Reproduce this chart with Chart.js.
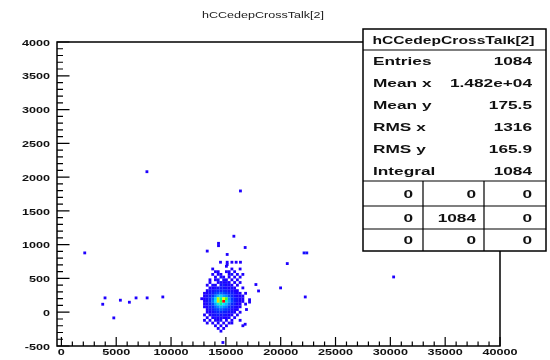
<!DOCTYPE html>
<html>
<head>
<meta charset="UTF-8" />
<title>hCCedepCrossTalk[2]</title>
<script src="https://cdn.jsdelivr.net/npm/chart.js@4.4.1/dist/chart.umd.min.js"></script>
<style>
	html, body { margin: 0; padding: 0; background: #fff; }
	.chart { width: 550px; height: 360px; }
</style>
</head>
<body>
<div class="chart"><canvas id="hist" width="550" height="360"></canvas></div>
<script>
// bin centres of the dense core (x bins of 250, y bins of 40), counts
var binX = [12800, 13050, 13300, 13550, 13800, 14050, 14300, 14550, 14800, 15050, 15300, 15550, 15800, 16050, 16300, 16550, 16800];
var binY = [680, 640, 600, 560, 520, 480, 440, 400, 360, 320, 280, 240, 200, 160, 120, 80, 40, 0, -40, -80, -120, -160, -200, -240, -280];
var counts = [
	[0,0,0,0,0,0,0,0,0,1,0,0,0,0,0,0,0],
	[0,0,0,0,1,0,0,0,0,0,0,1,0,0,1,0,0],
	[0,0,0,0,0,1,1,0,0,1,1,0,1,0,0,0,0],
	[0,0,0,0,1,0,1,1,0,0,1,2,0,1,0,1,0],
	[0,0,0,0,0,1,0,2,1,0,1,0,1,0,1,0,0],
	[0,0,0,1,0,1,2,0,2,1,0,1,0,1,0,0,0],
	[0,0,0,1,0,0,1,2,1,2,1,0,1,0,1,0,0],
	[0,0,1,0,2,1,0,2,3,1,2,1,0,1,0,0,0],
	[0,0,0,1,1,2,2,3,2,2,1,2,1,0,0,1,0],
	[0,0,1,2,2,3,4,3,4,3,2,2,1,1,0,0,0],
	[0,1,1,2,3,5,6,7,6,5,4,3,2,1,1,0,1],
	[0,1,2,3,5,8,11,12,10,9,6,4,2,1,1,1,0],
	[1,1,2,4,7,12,22,16,23,19,9,5,3,2,1,1,0],
	[0,1,2,4,8,13,24,18,30,15,10,6,3,2,1,1,0],
	[0,1,2,3,6,10,14,16,13,11,8,4,3,1,1,0,1],
	[0,1,1,3,4,7,9,10,9,8,5,3,2,1,1,0,0],
	[0,0,1,2,3,5,6,7,6,5,4,2,1,1,0,0,0],
	[0,0,1,1,2,3,4,4,3,3,2,2,1,0,1,0,0],
	[0,1,0,1,2,2,3,2,3,2,1,1,0,1,0,0,0],
	[0,0,1,0,1,2,1,2,1,1,2,0,1,0,0,0,0],
	[0,1,0,1,0,1,1,2,0,1,0,1,0,0,1,0,0],
	[0,0,1,0,1,0,1,0,1,0,1,1,0,0,0,0,0],
	[0,0,0,0,0,1,0,1,0,1,0,0,0,0,0,1,0],
	[0,0,0,0,0,0,1,0,1,0,0,0,0,0,0,0,0],
	[0,0,0,0,0,0,0,1,0,0,0,0,0,0,0,0,0]
];

// isolated entries outside the core
var strayX = [7800, 16330, 15730, 14330, 14330, 13300, 15120, 16760, 2130, 22130, 22380, 20600, 30300, 17740, 19990, 17980, 22240, 9250, 7820, 6810, 3980, 5380, 6200, 3770, 4780, 14730, 14510, 15120, 15550, 15940, 16330, 15120, 16880, 17160, 17160, 16760];
var strayY = [2080, 1795, 1125, 1020, 985, 905, 855, 958, 878, 878, 878, 720, 522, 410, 360, 315, 226, 226, 212, 212, 212, 178, 148, 118, -84, -448, 740, 740, 740, 740, 740, 706, 40, 185, 150, -178];
var strayN = [1, 1, 1, 1, 1, 1, 1, 1, 1, 2, 2, 1, 1, 1, 1, 1, 1, 1, 1, 1, 1, 1, 1, 1, 1, 1, 1, 1, 1, 1, 1, 1, 1, 1, 1, 1];
var maxCount = 30;

var xTicks = [0, 5000, 10000, 15000, 20000, 25000, 30000, 35000, 40000];
var yTicks = [-500, 0, 500, 1000, 1500, 2000, 2500, 3000, 3500, 4000];

var histTitle = 'hCCedepCrossTalk[2]';
var statNames = ['Entries', 'Mean x', 'Mean y', 'RMS x', 'RMS y', 'Integral'];
var statValues = ['1084', '1.482e+04', '175.5', '1316', '165.9', '1084'];
var cellValues = [[0, 0, 0], [0, 1084, 0], [0, 0, 0]];

// ROOT-like palette
var stops = [[0, 30, 0, 255], [0.15, 0, 60, 255], [0.3, 0, 160, 255], [0.42, 0, 235, 255], [0.55, 0, 255, 120],
	[0.65, 90, 255, 0], [0.76, 235, 255, 0], [0.88, 255, 150, 0], [1, 255, 0, 0]];

function colorFor(n) {
	var f = Math.min(1, (n - 1) / (maxCount - 1));
	for (var k = 1; k < stops.length; k++) {
		if (f <= stops[k][0]) {
			var a = stops[k - 1], b = stops[k];
			var t = (f - a[0]) / (b[0] - a[0]);
			return 'rgb(' + Math.round(a[1] + (b[1] - a[1]) * t) + ',' + Math.round(a[2] + (b[2] - a[2]) * t) + ',' + Math.round(a[3] + (b[3] - a[3]) * t) + ')';
		}
	}
	return 'rgb(255,0,0)';
}

var cells = [];
for (var j = 0; j < binY.length; j++) {
	for (var i = 0; i < binX.length; i++) {
		if (counts[j][i] > 0) cells.push({x: binX[i], y: binY[j], n: counts[j][i]});
	}
}
for (var s = 0; s < strayX.length; s++) {
	cells.push({x: strayX[s], y: strayY[s], n: strayN[s]});
}

function wideText(ctx, txt, x, y, sx, align) {
	ctx.save();
	ctx.translate(x, y);
	ctx.scale(sx, 1);
	ctx.textAlign = align;
	ctx.fillText(txt, 0, 0);
	ctx.restore();
}

var rootFrame = {
	id: 'rootFrame',
	afterDatasetsDraw: function (chart) {
		var ctx = chart.ctx, a = chart.chartArea;
		var xs = chart.scales.x, ys = chart.scales.y;
		ctx.save();
		ctx.strokeStyle = '#000';
		ctx.fillStyle = '#111';

		// frame
		ctx.lineWidth = 1.5;
		ctx.strokeRect(a.left, a.top, a.right - a.left, a.bottom - a.top);

		// ticks, pointing inwards
		ctx.lineWidth = 1.2;
		ctx.beginPath();
		for (var k = 0; k < xTicks.length; k++) {
			var px = xs.getPixelForValue(xTicks[k]);
			ctx.moveTo(px, a.bottom); ctx.lineTo(px, a.bottom - 9);
			if (k < xTicks.length - 1) {
				var step = (xTicks[k + 1] - xTicks[k]) / 5;
				for (var m = 1; m < 5; m++) {
					var mx = xs.getPixelForValue(xTicks[k] + m * step);
					ctx.moveTo(mx, a.bottom); ctx.lineTo(mx, a.bottom - 4.5);
				}
			}
		}
		for (var k = 0; k < yTicks.length; k++) {
			var py = ys.getPixelForValue(yTicks[k]);
			ctx.moveTo(a.left, py); ctx.lineTo(a.left + 12.5, py);
			if (k < yTicks.length - 1) {
				var step = (yTicks[k + 1] - yTicks[k]) / 5;
				for (var m = 1; m < 5; m++) {
					var my = ys.getPixelForValue(yTicks[k] + m * step);
					ctx.moveTo(a.left, my); ctx.lineTo(a.left + 6, my);
				}
			}
		}
		ctx.stroke();

		// tick labels
		ctx.font = 'bold 9.5px "Liberation Sans", Arial, sans-serif';
		ctx.textBaseline = 'middle';
		for (var k = 0; k < xTicks.length; k++) {
			wideText(ctx, String(xTicks[k]), xs.getPixelForValue(xTicks[k]), a.bottom + 6.5, 1.33, 'center');
		}
		for (var k = 0; k < yTicks.length; k++) {
			wideText(ctx, String(yTicks[k]), a.left - 7, ys.getPixelForValue(yTicks[k]) + 1, 1.33, 'right');
		}

		// title
		ctx.fillStyle = '#222';
		ctx.font = '9.5px "Liberation Sans", Arial, sans-serif';
		wideText(ctx, histTitle, 263, 15, 1.32, 'center');

		// stats box
		var bl = 363, br = 546, bt = 29, bb = 251;
		var cols = [bl, 423, 484, br];
		var gridTop = 181, rowLines = [181, 206, 229, 251];
		ctx.fillStyle = '#fff';
		ctx.fillRect(bl, bt, br - bl, bb - bt);
		ctx.lineWidth = 1.5;
		ctx.strokeRect(bl, bt, br - bl, bb - bt);
		ctx.lineWidth = 1.2;
		ctx.beginPath();
		ctx.moveTo(bl, 50); ctx.lineTo(br, 50);
		for (var r = 0; r < 3; r++) { ctx.moveTo(bl, rowLines[r]); ctx.lineTo(br, rowLines[r]); }
		ctx.moveTo(cols[1], gridTop); ctx.lineTo(cols[1], bb);
		ctx.moveTo(cols[2], gridTop); ctx.lineTo(cols[2], bb);
		ctx.stroke();

		ctx.fillStyle = '#111';
		ctx.font = 'bold 11px "Liberation Sans", Arial, sans-serif';
		wideText(ctx, histTitle, (bl + br) / 2 - 1, 40.5, 1.42, 'center');
		ctx.font = 'bold 11.5px "Liberation Sans", Arial, sans-serif';
		for (var r = 0; r < statNames.length; r++) {
			var cy = 62 + r * 22;
			wideText(ctx, statNames[r], bl + 10, cy, 1.5, 'left');
			wideText(ctx, statValues[r], 532, cy, 1.5, 'right');
		}
		var cellRight = [413, 476, 532];
		for (var r = 0; r < cellValues.length; r++) {
			var cy = (rowLines[r] + rowLines[r + 1]) / 2 + 1;
			for (var c = 0; c < 3; c++) {
				wideText(ctx, String(cellValues[r][c]), cellRight[c], cy, 1.5, 'right');
			}
		}
		ctx.restore();
	}
};

var hist = new Chart(document.getElementById('hist'), {
	type: 'scatter',
	data: {
		datasets: [{
			label: histTitle,
			data: cells,
			pointStyle: 'rect',
			pointRadius: 2,
			pointHoverRadius: 2,
			borderWidth: 0,
			backgroundColor: function (c) { return c.raw ? colorFor(c.raw.n) : '#00f'; }
		}]
	},
	options: {
		responsive: false,
		animation: false,
		devicePixelRatio: 1,
		layout: { padding: { left: 57, right: 50, top: 42, bottom: 14 } },
		scales: {
			x: { type: 'linear', min: -400, max: 40000, display: false },
			y: { type: 'linear', min: -500, max: 4000, display: false }
		},
		plugins: { legend: { display: false }, tooltip: { enabled: false } }
	},
	plugins: [rootFrame]
});
</script>
</body>
</html>
